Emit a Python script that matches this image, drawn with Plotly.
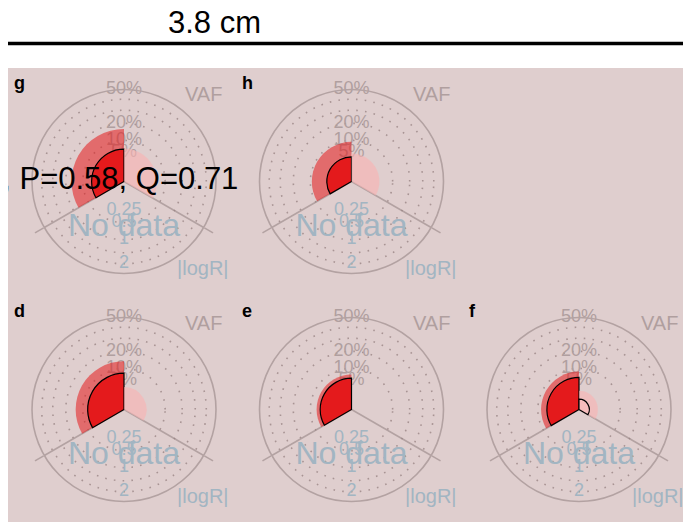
import math
import plotly.graph_objects as go

W, H = 691, 522

# ---------------- data ----------------
panel_labels = ["g", "h", "d", "e", "f"]
left_outer_vaf = [16.3, 9.3, 13.8, 7.2, 8.5]     # % (semi-transparent red)
left_inner_vaf = [6.2, 3.6, 7.8, 5.8, 6.1]       # % (solid red, outlined)
right_outer_vaf = [6.4, 4.6, 3.0, 0.0, 2.1]      # % (pale pink)
right_inner_vaf = [0.0, 0.0, 0.0, 0.0, 0.63]     # % (outlined pink)

vaf_ticks = [50, 20, 10, 5]
vaf_ticktext = ["50%", "20%", "10%", "5%"]
logr_ticks = [0.25, 0.5, 1, 2]
logr_ticktext = ["0.25", "0.5", "1", "2"]
ring_vaf = [10, 20, 30, 40]
sector_bounds = [210, 330]
VAF_MAX = 50
LOGR_MAX = 2.5

scale_text = "3.8 cm"
stats_text = "0, P=0.58, Q=0.71"
no_data_text = "No data"

# ---------------- layout constants (figure pixels) ----------------
FONT = "Liberation Sans, Arial, sans-serif"
OFF = 8  # page body margin
centers_x = [124 - OFF, 351.5 - OFF, 124 - OFF, 351.5 - OFF, 579 - OFF]
centers_y = [181.5 - OFF, 181.5 - OFF, 409.5 - OFF, 409.5 - OFF, 409.5 - OFF]
R_PX = 92
RMAX = math.sqrt(VAF_MAX)
px2r = RMAX / R_PX

GRAY = "#b09f9f"
LINE_GRAY = "#b3a2a2"
DOT_GRAY = "rgba(150,128,128,0.75)"
BLUE_GRAY = "#a2b5c2"
BG_PINK = "#dfcece"


def vr(v):
    return math.sqrt(v)


def lr(x):
    return math.sqrt(x * VAF_MAX / LOGR_MAX)


def px(x):
    return x / W


def py(y):
    return 1 - y / H


fig = go.Figure()
layout_polars = {}
circle_theta = list(range(0, 361, 2))
annotations = []

for i, lab in enumerate(panel_labels):
    cx, cy = centers_x[i], centers_y[i]
    dom = dict(x=[px(cx - R_PX), px(cx + R_PX)], y=[py(cy + R_PX), py(cy - R_PX)])
    bottom_id = "polar" if i == 0 else f"polar{2 * i + 1}"
    top_id = f"polar{2 * i + 2}"

    # dotted rings
    for v in ring_vaf:
        fig.add_trace(go.Scatterpolar(
            r=[vr(v)] * len(circle_theta), theta=circle_theta, mode="lines",
            line=dict(color=DOT_GRAY, width=1.6, dash="1.6px,7.2px"),
            subplot=bottom_id, showlegend=False, hoverinfo="skip"))
    # VAF tick labels
    fig.add_trace(go.Scatterpolar(
        r=[vr(v) for v in vaf_ticks], theta=[90] * len(vaf_ticks),
        mode="text", text=vaf_ticktext, textposition="middle center",
        textfont=dict(family=FONT, size=18, color=GRAY),
        cliponaxis=False, subplot=bottom_id, showlegend=False, hoverinfo="skip"))
    # logR tick labels
    fig.add_trace(go.Scatterpolar(
        r=[lr(x) for x in logr_ticks], theta=[270] * len(logr_ticks),
        mode="text", text=logr_ticktext, textposition="middle center",
        textfont=dict(family=FONT, size=18, color=BLUE_GRAY),
        cliponaxis=False, subplot=bottom_id, showlegend=False, hoverinfo="skip"))
    # No data
    fig.add_trace(go.Scatterpolar(
        r=[46.5 * px2r], theta=[270], mode="text", text=[no_data_text],
        textposition="middle center", textfont=dict(family=FONT, size=32, color=BLUE_GRAY),
        cliponaxis=False, subplot=bottom_id, showlegend=False, hoverinfo="skip"))

    # wedges (top subplot)
    fig.add_trace(go.Barpolar(
        r=[vr(left_outer_vaf[i])], theta=[150], width=[120],
        marker=dict(color="rgba(228,26,28,0.55)", line=dict(width=0)),
        subplot=top_id, showlegend=False, hoverinfo="skip"))
    fig.add_trace(go.Barpolar(
        r=[vr(left_inner_vaf[i])], theta=[150], width=[120],
        marker=dict(color="#e41a1c", line=dict(color="black", width=1.2)),
        subplot=top_id, showlegend=False, hoverinfo="skip"))
    if right_outer_vaf[i] > 0:
        fig.add_trace(go.Barpolar(
            r=[vr(right_outer_vaf[i])], theta=[30], width=[120],
            marker=dict(color="rgba(250,178,178,0.6)", line=dict(width=0)),
            subplot=top_id, showlegend=False, hoverinfo="skip"))
    if right_inner_vaf[i] > 0:
        fig.add_trace(go.Barpolar(
            r=[vr(right_inner_vaf[i])], theta=[30], width=[120],
            marker=dict(color="#f6bcbc", line=dict(color="black", width=1.2)),
            subplot=top_id, showlegend=False, hoverinfo="skip"))

    layout_polars[bottom_id] = dict(
        domain=dom, bgcolor="rgba(0,0,0,0)",
        radialaxis=dict(visible=False, range=[0, RMAX]),
        angularaxis=dict(showline=True, linecolor=LINE_GRAY, linewidth=1.6,
                         tickmode="array", tickvals=sector_bounds,
                         ticks="outside", ticklen=10, tickwidth=1.6, tickcolor=LINE_GRAY,
                         showgrid=True, gridcolor=LINE_GRAY, gridwidth=1.6,
                         showticklabels=False))
    layout_polars[top_id] = dict(
        domain=dom, bgcolor="rgba(0,0,0,0)", barmode="overlay",
        radialaxis=dict(visible=False, range=[0, RMAX]),
        angularaxis=dict(visible=False, showline=False, showgrid=False))

    # axis titles and panel letter
    annotations.append(dict(
        text="VAF", x=px(cx + 80), y=py(cy - 87), xref="paper", yref="paper",
        xanchor="center", yanchor="middle", showarrow=False,
        font=dict(family=FONT, size=20, color=GRAY)))
    annotations.append(dict(
        text="|logR|", x=px(cx + 79), y=py(cy + 86.5), xref="paper", yref="paper",
        xanchor="center", yanchor="middle", showarrow=False,
        font=dict(family=FONT, size=20, color=BLUE_GRAY)))
    annotations.append(dict(
        text=f"<b>{lab}</b>", x=px(cx - 112), y=py(cy - 98.7),
        xref="paper", yref="paper", xanchor="left", yanchor="middle",
        showarrow=False, font=dict(family=FONT, size=18, color="black")))

annotations += [
    dict(text=scale_text, x=px(214.5 - OFF), y=py(22.5 - OFF), xref="paper", yref="paper",
         xanchor="center", yanchor="middle", showarrow=False,
         font=dict(family=FONT, size=31, color="black")),
    dict(text=stats_text, x=px(240 - OFF), y=py(178.5 - OFF), xref="paper", yref="paper",
         xanchor="right", yanchor="middle", showarrow=False,
         font=dict(family=FONT, size=31, color="black")),
]

shapes = [
    dict(type="rect", xref="paper", yref="paper", x0=-0.01, x1=1.01, y0=-0.01,
         y1=py(68 - OFF), fillcolor=BG_PINK, line=dict(width=0), layer="below"),
    dict(type="line", xref="paper", yref="paper", x0=0, x1=1.01,
         y0=py(43.5 - OFF), y1=py(43.5 - OFF), line=dict(color="black", width=3.5)),
]

fig.update_layout(
    width=W, height=H, autosize=False,
    margin=dict(l=0, r=0, t=0, b=0),
    paper_bgcolor="white", plot_bgcolor="white",
    showlegend=False, hovermode=False, dragmode=False,
    annotations=annotations, shapes=shapes,
    **layout_polars,
)

fig.write_html("out.html", config={"displayModeBar": False, "staticPlot": True})
